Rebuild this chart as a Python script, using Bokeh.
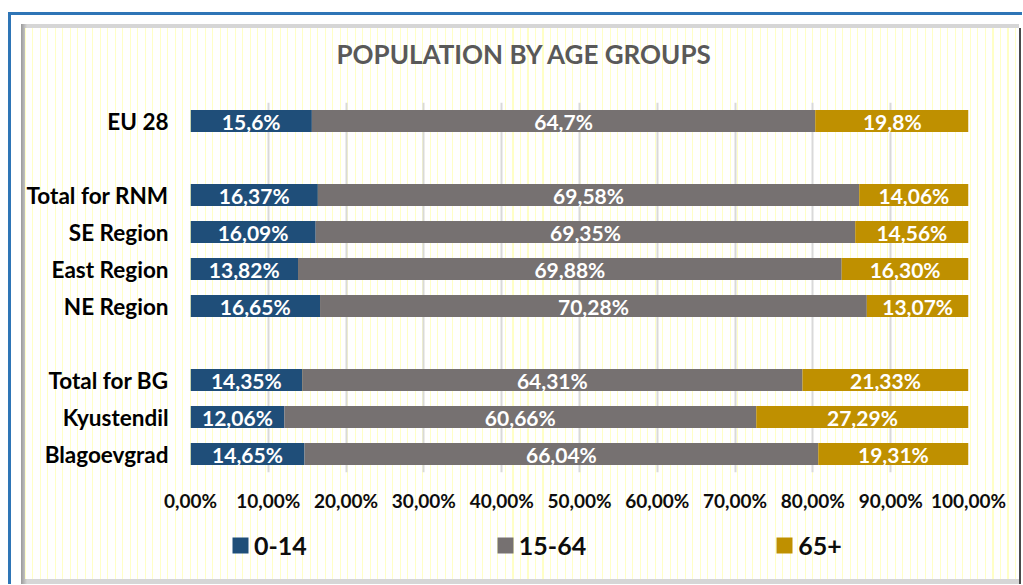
from bokeh.plotting import figure
from bokeh.models import (FactorRange, Range1d, FixedTicker, Legend, LegendItem,
                          ColumnDataSource, Column)
from bokeh.core.properties import value
from bokeh.embed import file_html
from bokeh.resources import INLINE

# ---------------- data ----------------
categories = ["EU 28", "Total for RNM", "SE Region", "East Region", "NE Region",
              "Total for BG", "Kyustendil", "Blagoevgrad"]
age_0_14 = [15.6, 16.37, 16.09, 13.82, 16.65, 14.35, 12.06, 14.65]
age_15_64 = [64.7, 69.58, 69.35, 69.88, 70.28, 64.31, 60.66, 66.04]
age_65_plus = [19.8, 14.06, 14.56, 16.30, 13.07, 21.33, 27.29, 19.31]
decimals = [1, 2, 2, 2, 2, 2, 2, 2]
series_names = ["0-14", "15-64", "65+"]
# row order, top to bottom (blank entries are gaps between groups)
row_order = ["EU 28", " ", "Total for RNM", "SE Region", "East Region", "NE Region",
             "  ", "Total for BG", "Kyustendil", "Blagoevgrad"]
x_ticks = [0, 10, 20, 30, 40, 50, 60, 70, 80, 90, 100]
x_tick_labels = ["0,00%", "10,00%", "20,00%", "30,00%", "40,00%", "50,00%",
                 "60,00%", "70,00%", "80,00%", "90,00%", "100,00%"]
title_text = "POPULATION BY AGE GROUPS"

colors = ["#1F4E79", "#767171", "#BF9000"]
FONT = "Lato"

W = 1022
H1, H2 = 520, 64

# ---------------- main chart ----------------
p = figure(width=W, height=H1, output_backend="svg", toolbar_location=None,
           y_range=FactorRange(factors=list(reversed(row_order))),
           x_range=Range1d(0, 100),
           min_border_left=190, min_border_right=W - 968, min_border_top=102,
           min_border_bottom=H1 - 472)
p.outline_line_color = None
p.background_fill_alpha = 0
p.border_fill_alpha = 0

src = ColumnDataSource(dict(cat=categories, a=age_0_14, b=age_15_64, c=age_65_plus))
rs = p.hbar_stack(["a", "b", "c"], y="cat", height=0.6, color=colors,
                  line_color=None, source=src)

# data labels
lx, ly, lt = [], [], []
for i, cat in enumerate(categories):
    left = 0.0
    for vals in (age_0_14, age_15_64, age_65_plus):
        v = vals[i]
        lx.append(left + v / 2)
        ly.append(cat)
        lt.append(f"{v:.{decimals[i]}f}%".replace(".", ","))
        left += v
lsrc = ColumnDataSource(dict(x=lx, y=ly, t=lt))
p.text(x="x", y="y", text="t", source=lsrc, text_font=value(FONT),
       text_font_style="bold", text_font_size="21px", text_color="white",
       text_align="center", text_baseline="middle")

# axes
p.xaxis.ticker = FixedTicker(ticks=x_ticks)
p.xaxis.major_label_overrides = {t: l for t, l in zip(x_ticks, x_tick_labels)}
p.xaxis.axis_line_color = None
p.xaxis.major_tick_line_color = None
p.xaxis.minor_tick_line_color = None
p.xaxis.major_label_text_font = FONT
p.xaxis.major_label_text_font_style = "bold"
p.xaxis.major_label_text_font_size = "19px"
p.xaxis.major_label_text_color = "#0D0D0D"
p.xaxis.major_label_standoff = 10

p.yaxis.axis_line_color = None
p.yaxis.major_tick_line_color = None
p.yaxis.minor_tick_line_color = None
p.yaxis.major_label_text_font = FONT
p.yaxis.major_label_text_font_style = "bold"
p.yaxis.major_label_text_font_size = "22.5px"
p.yaxis.major_label_text_color = "#000000"
p.yaxis.major_label_standoff = 16

p.xgrid.grid_line_color = "#D9D9D9"
p.xgrid.grid_line_width = 2
p.ygrid.grid_line_color = None

# title
p.title.text = title_text
p.title.align = "left"
p.title.offset = 146
p.title.standoff = 66
p.title.text_font = FONT
p.title.text_font_style = "bold"
p.title.text_font_size = "26px"
p.title.text_color = "#595959"

# ---------------- legend strip ----------------
p2 = figure(width=W, height=H2, output_backend="svg", toolbar_location=None,
            x_range=Range1d(0, 1), y_range=Range1d(0, 1),
            x_axis_type=None, y_axis_type=None,
            min_border_left=0, min_border_right=0, min_border_top=0,
            min_border_bottom=0)
p2.outline_line_color = None
p2.background_fill_alpha = 0
p2.border_fill_alpha = 0
p2.grid.visible = False
# zero-size proxy glyphs: they only carry the swatch colours for the legend
swatches = [p2.vbar(x=[0], top=[0], bottom=[0], width=0, color=c, line_color=None)
            for c in colors]

legend = Legend(items=[LegendItem(label=n, renderers=[r]) for n, r in zip(series_names, swatches)],
                orientation="horizontal", location=(40, 24),
                glyph_width=20, glyph_height=20, label_standoff=4, spacing=188,
                padding=0, margin=0, border_line_color=None,
                background_fill_alpha=0, label_text_font=FONT,
                label_text_font_style="bold", label_text_font_size="25px",
                label_text_color="#0D0D0D", label_height=22)
p2.add_layout(legend)

# decorative chart-area background (page-level CSS, not data)
layers = [
    ("linear-gradient(#2E75B6,#2E75B6)", "8px 12px", "100% 3px"),
    ("linear-gradient(#2E75B6,#2E75B6)", "8px 12px", "3px 100%"),
    ("linear-gradient(#4A4A4A,#4A4A4A)", "1019px 28px", "2px 100%"),
    ("repeating-linear-gradient(90deg, #FFFFC6 0px, #FFFFC6 1px, #FFFFFF 1px, #FFFFFF 7.5px)",
     "25px 28px", "994px 551px"),
    ("linear-gradient(90deg, #9A9A9A, #D6D6D6)", "21px 24px", "6px 560px"),
    ("linear-gradient(#D6D6D6,#D6D6D6)", "21px 24px", "998px 560px"),
]
layout = Column(children=[p, p2], spacing=0, styles={
    "background-color": "white",
    "background-image": ", ".join(l[0] for l in layers),
    "background-position": ", ".join(l[1] for l in layers),
    "background-size": ", ".join(l[2] for l in layers),
    "background-repeat": "no-repeat",
})

open("out.html", "w").write(file_html(layout, INLINE))
